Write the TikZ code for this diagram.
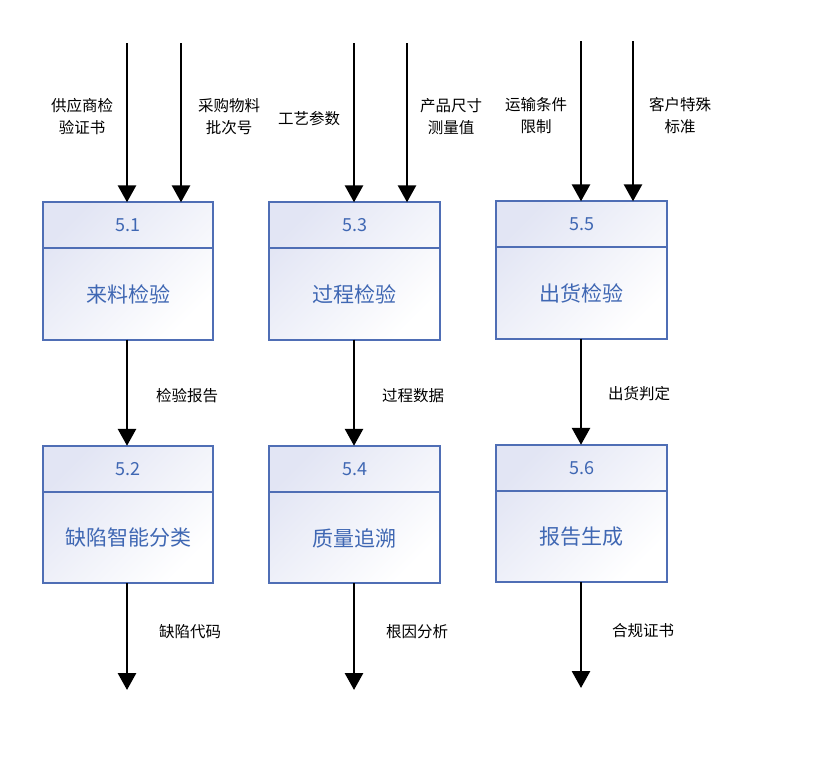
\documentclass[tikz,border=0pt]{standalone}
\usepackage{fontspec}
\setmainfont{Noto Sans CJK SC}
\newfontfamily\cjk{Noto Sans CJK SC}
\usetikzlibrary{arrows.meta}
\definecolor{boxborder}{HTML}{4F6EB5}
\definecolor{boxtext}{HTML}{3F67B3}
\definecolor{boxshade}{HTML}{E2E5F4}
\tikzset{
  x=1pt, y=-1pt,
  procbox/.style={minimum width=170pt, minimum height=137pt, inner sep=0pt,
    top color=boxshade, bottom color=white, shading angle=45},
  boxline/.style={draw=boxborder, line width=1.8pt},
  numtext/.style={text=boxtext, font=\cjk\fontsize{18}{21}\selectfont},
  nametext/.style={text=boxtext, font=\cjk\fontsize{21}{25}\selectfont},
  flow/.style={line width=2.8pt, -{Triangle[width=18pt,length=17pt]}},
  lbl/.style={font=\cjk\fontsize{15.5}{22}\selectfont, align=center, inner sep=0pt},
}
\begin{document}
\begin{tikzpicture}
\useasboundingbox (0,0) rectangle (830,764);
\fill[white] (0,0) rectangle (830,764);
% boxes
\foreach \nm/\cx/\cy/\num in {a/128/271/5.1, c/354.5/271/5.3, e/581.5/270/5.5,
  b/128/514.5/5.2, d/354.5/514.5/5.4, f/581.5/513.5/5.6}{
  \node[procbox] (\nm) at (\cx,\cy) {};
  \draw[boxline] (\nm.north west) rectangle (\nm.south east);
  \draw[boxline] ([yshift=-46pt]\nm.north west) -- ([yshift=-46pt]\nm.north east);
  \node[numtext] (\nm num) at ([yshift=-23pt]\nm.north) {\num};
}
\node[nametext] (at) at (128,294) {来料检验};
\node[nametext] (ct) at (354.5,294) {过程检验};
\node[nametext] (et) at (581.5,293) {出货检验};
\node[nametext] (bt) at (128,538) {缺陷智能分类};
\node[nametext] (dt) at (354.5,538) {质量追溯};
\node[nametext] (ft) at (581.5,537) {报告生成};
% top input coordinates
\coordinate (i1) at (127,43);
\coordinate (i2) at (181,43);
\coordinate (i3) at (354,43);
\coordinate (i4) at (407,43);
\coordinate (i5) at (581,41);
\coordinate (i6) at (633,41);
\draw[flow] (i1) -- (i1 |- a.north);
\draw[flow] (i2) -- (i2 |- a.north);
\draw[flow] (i3) -- (i3 |- c.north);
\draw[flow] (i4) -- (i4 |- c.north);
\draw[flow] (i5) -- (i5 |- e.north);
\draw[flow] (i6) -- (i6 |- e.north);
% middle
\draw[flow] (a.south -| i1) -- (b.north -| i1);
\draw[flow] (c.south -| i3) -- (d.north -| i3);
\draw[flow] (e.south -| i5) -- (f.north -| i5);
% outputs
\coordinate (o1) at (127,690);
\coordinate (o2) at (354,690);
\coordinate (o3) at (581,688);
\draw[flow] (b.south -| o1) -- (o1);
\draw[flow] (d.south -| o2) -- (o2);
\draw[flow] (f.south -| o3) -- (o3);
% labels
\node[lbl] (l1) at (82,117) {供应商检\\验证书};
\node[lbl] (l2) at (229,117) {采购物料\\批次号};
\node[lbl] (l3) at (309,119) {工艺参数};
\node[lbl] (l4) at (451,117) {产品尺寸\\测量值};
\node[lbl] (l5) at (536,116) {运输条件\\限制};
\node[lbl] (l6) at (680,116) {客户特殊\\标准};
\node[lbl] (m1) at (187,396) {检验报告};
\node[lbl] (m2) at (413,396) {过程数据};
\node[lbl] (m3) at (639,394) {出货判定};
\node[lbl] (n1) at (190,632) {缺陷代码};
\node[lbl] (n2) at (417,632) {根因分析};
\node[lbl] (n3) at (643,631) {合规证书};
\end{tikzpicture}
\end{document}
